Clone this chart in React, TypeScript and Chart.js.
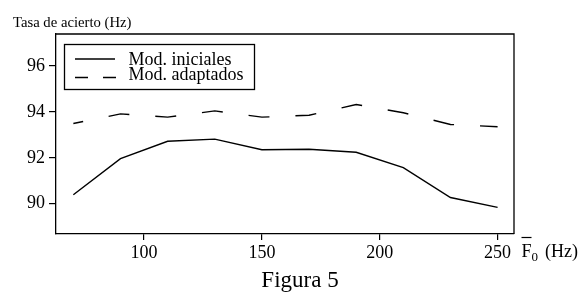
import React, { useEffect, useRef } from "react";
import { Chart, registerables } from "chart.js";

Chart.register(...registerables);

const xValues = [70, 90, 110, 130, 150, 170, 190, 210, 230, 250];
const modIniciales = [90.39, 91.96, 92.72, 92.81, 92.35, 92.37, 92.24, 91.57, 90.27, 89.84];
const modAdaptados = [93.49, 93.91, 93.77, 94.04, 93.77, 93.85, 94.32, 93.96, 93.45, 93.35];
const xTicks = [100, 150, 200, 250];
const yTicks = [90, 92, 94, 96];
const seriesNames = ["Mod. iniciales", "Mod. adaptados"];
const yAxisTitle = "Tasa de acierto (Hz)";
const figureCaption = "Figura 5";

const SERIF = "'Liberation Serif', 'Times New Roman', serif";

const decorPlugin = {
  id: "decor",
  afterDraw(chart: any) {
    const ctx = chart.ctx;
    const a = chart.chartArea;
    ctx.save();
    // top and right borders of the box
    ctx.strokeStyle = "#000";
    ctx.lineWidth = 1.3;
    ctx.beginPath();
    ctx.moveTo(a.left, a.top);
    ctx.lineTo(a.right, a.top);
    ctx.lineTo(a.right, a.bottom);
    ctx.stroke();

    // legend box
    ctx.lineWidth = 1.3;
    ctx.strokeRect(64.5, 44.5, 190, 45);
    ctx.beginPath();
    ctx.moveTo(75, 59);
    ctx.lineTo(115, 59);
    ctx.stroke();
    ctx.setLineDash([13, 15]);
    ctx.beginPath();
    ctx.moveTo(75, 77.5);
    ctx.lineTo(116, 77.5);
    ctx.stroke();
    ctx.setLineDash([]);

    ctx.fillStyle = "#000";
    ctx.textBaseline = "alphabetic";
    ctx.textAlign = "left";
    ctx.font = `18px ${SERIF}`;
    ctx.fillText(seriesNames[0], 128.5, 65);
    ctx.fillText(seriesNames[1], 128.5, 79.5);

    // y axis title
    ctx.font = `14.7px ${SERIF}`;
    ctx.fillText(yAxisTitle, 13, 27);

    // x axis title: F-bar sub 0 (Hz)
    ctx.font = `18px ${SERIF}`;
    const fx = 521.5;
    ctx.fillText("F", fx, 256.5);
    const fw = ctx.measureText("F").width;
    ctx.lineWidth = 1.2;
    ctx.beginPath();
    ctx.moveTo(fx, 237.5);
    ctx.lineTo(fx + fw, 237.5);
    ctx.stroke();
    ctx.font = `13px ${SERIF}`;
    ctx.fillText("0", fx + fw, 260.5);
    ctx.font = `18px ${SERIF}`;
    ctx.fillText("(Hz)", 545, 256.5);

    // caption
    ctx.font = `23px ${SERIF}`;
    ctx.textAlign = "center";
    ctx.fillText(figureCaption, 300, 287);
    ctx.restore();
  },
};

export default function App() {
  const ref = useRef<HTMLCanvasElement | null>(null);
  useEffect(() => {
    const canvas = ref.current;
    if (!canvas) return;
    const chart = new Chart(canvas, {
      type: "line",
      data: {
        datasets: [
          {
            label: seriesNames[0],
            data: xValues.map((x, i) => ({ x, y: modIniciales[i] })),
            borderColor: "#000",
            borderWidth: 1.4,
            pointRadius: 0,
            fill: false,
            tension: 0,
          },
          {
            label: seriesNames[1],
            data: xValues.map((x, i) => ({ x, y: modAdaptados[i] })),
            borderColor: "#000",
            borderWidth: 1.4,
            borderDash: [21, 26],
            borderDashOffset: 11,
            pointRadius: 0,
            fill: false,
            tension: 0,
          },
        ],
      },
      options: {
        responsive: false,
        animation: false,
        devicePixelRatio: 1,
        layout: { padding: { left: 0, top: 34, right: 68, bottom: 0 } },
        plugins: { legend: { display: false }, tooltip: { enabled: false }, title: { display: false } },
        scales: {
          x: {
            type: "linear",
            min: 62.64,
            max: 256.96,
            afterFit: (s: any) => {
              s.height = 58;
            },
            afterBuildTicks: (s: any) => {
              s.ticks = xTicks.map((v) => ({ value: v }));
            },
            grid: { drawOnChartArea: false, drawTicks: true, tickLength: 6, color: "#000", lineWidth: 1.2 },
            border: { display: true, color: "#000", width: 1.3 },
            ticks: { color: "#000", font: { family: SERIF, size: 18 }, padding: 2, maxRotation: 0, autoSkip: false },
          },
          y: {
            type: "linear",
            min: 88.68,
            max: 97.39,
            afterFit: (s: any) => {
              s.width = 56;
            },
            afterBuildTicks: (s: any) => {
              s.ticks = yTicks.map((v) => ({ value: v }));
            },
            grid: { drawOnChartArea: false, drawTicks: true, tickLength: 7, color: "#000", lineWidth: 1.2 },
            border: { display: true, color: "#000", width: 1.3 },
            ticks: { color: "#000", font: { family: SERIF, size: 18 }, padding: 4, autoSkip: false },
          },
        },
      },
      plugins: [decorPlugin],
    });
    return () => chart.destroy();
  }, []);
  return (
    <div style={{ position: "absolute", left: 0, top: 0, width: 582, height: 292, background: "#fff" }}>
      <canvas ref={ref} width={582} height={292} style={{ display: "block", width: 582, height: 292 }} />
    </div>
  );
}
